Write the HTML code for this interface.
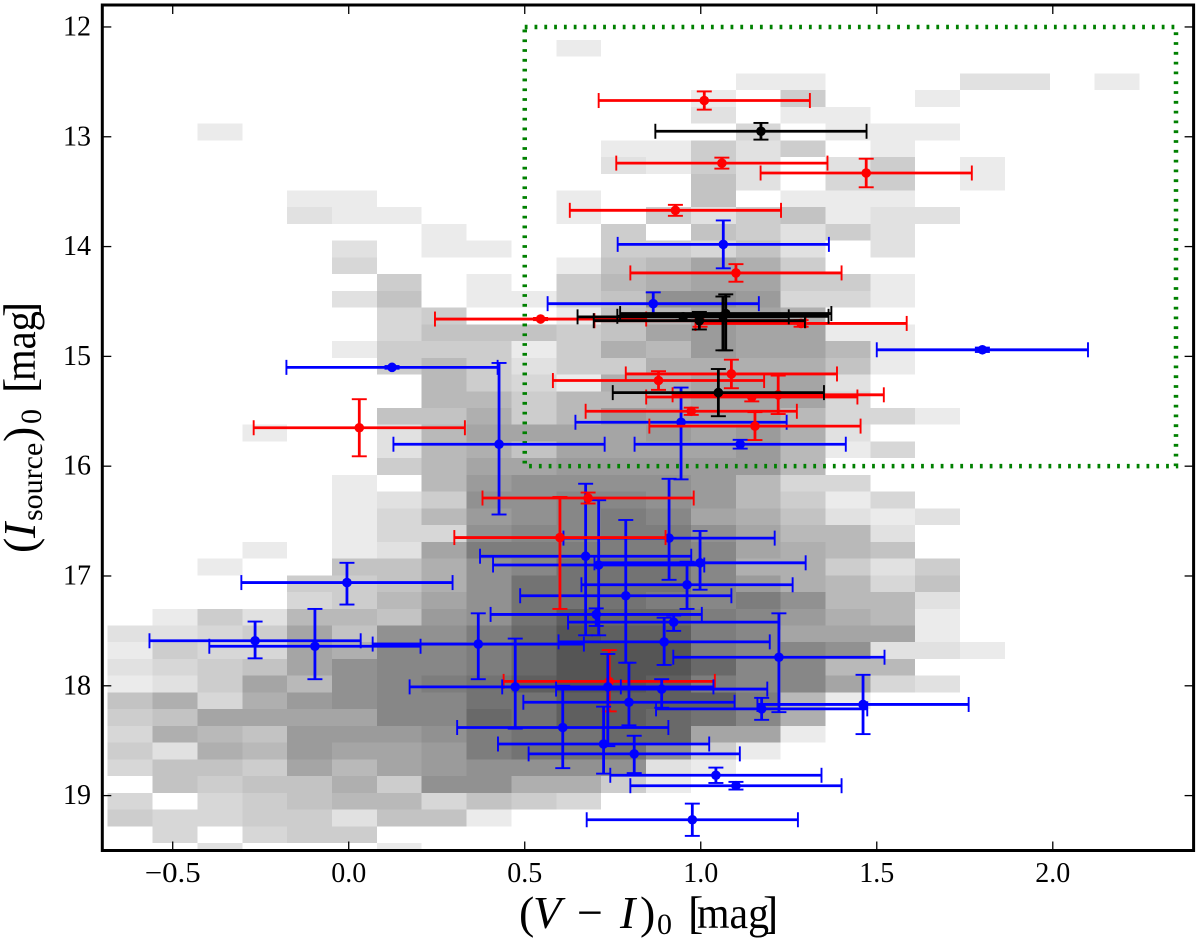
<!DOCTYPE html>
<html lang="en">
<head>
<meta charset="utf-8">
<title>Colour-magnitude diagram</title>
<style>
html,body{margin:0;padding:0;background:#fff;}
svg{display:block;}
text{font-family:"Liberation Serif",serif;fill:#000;}
</style>
</head>
<body>
<svg id="chart" xmlns="http://www.w3.org/2000/svg" width="1200" height="941" viewBox="0 0 1200 941">
  <g id="heat" shape-rendering="crispEdges"></g>
  <path id="box" fill="none" stroke="#008000" stroke-width="4.5" stroke-dasharray="2.8 7"></path>
  <g id="marks"></g>
  <g id="ticks"></g>
  <rect id="frame" fill="none" stroke="#000" stroke-width="3"></rect>
  <g id="labels"></g>
  <text y="928" font-size="46"><tspan x="519">(</tspan><tspan x="533" font-style="italic">V</tspan><tspan x="577">−</tspan><tspan x="620" font-style="italic">I</tspan><tspan x="640">)</tspan><tspan x="657" dy="6" font-size="30">0</tspan><tspan x="688" dy="-6">[</tspan><tspan x="697" font-size="44" textLength="72" lengthAdjust="spacingAndGlyphs">mag</tspan><tspan x="763">]</tspan></text>
  <text transform="translate(35,553) rotate(-90)" font-size="46"><tspan x="0">(</tspan><tspan x="15" font-style="italic">I</tspan><tspan x="32" dy="7" font-size="30">source</tspan><tspan x="111" dy="-7">)</tspan><tspan x="129" dy="6" font-size="30">0</tspan><tspan x="160" dy="-6">[</tspan><tspan x="172" font-size="44" textLength="70" lengthAdjust="spacingAndGlyphs">mag</tspan><tspan x="236">]</tspan></text>
</svg>
<script>
// ---- axis ranges ----
const xDomain = [-0.7, 2.4];
const yDomain = [11.8, 19.5];
const xTickValues = [-0.5, 0.0, 0.5, 1.0, 1.5, 2.0];
const yTickValues = [12, 13, 14, 15, 16, 17, 18, 19];
const xTickText = ["\u22120.5", "0.0", "0.5", "1.0", "1.5", "2.0"];
const yTickText = ["12", "13", "14", "15", "16", "17", "18", "19"];

// ---- selection box in data units: x0, x1, y0, y1 ----
const selectionBox = [0.5, 2.35, 12, 16];

// ---- histogram bins ----
const binX0 = -0.6847;
const binXW = 0.12744;
const binY0 = 12.118;
const binYH = 0.15237;

// ---- histogram counts: one row per magnitude bin, one entry per colour bin ----
const counts = [
[0,0,0,0,0,0,0,0,0,0,1],
[],
[0,0,0,0,0,0,0,0,0,0,0,0,0,0,1,1,0,0,0,2,2,0,1],
[0,0,0,0,0,0,0,0,0,0,0,0,0,1,0,4,0,0,1],
[0,0,0,0,0,0,0,0,0,0,0,0,0,2,0,1,1],
[0,0,1,0,0,0,0,0,0,0,0,0,0,0,3,0,1,1,1],
[0,0,0,0,0,0,0,0,0,0,0,1,1,4,2,4,0,1],
[0,0,0,0,0,0,0,0,0,0,0,2,1,4,2,0,2,4,0,1],
[0,0,0,0,0,0,0,0,0,0,0,0,0,5,2,0,3,4,0,1],
[0,0,0,0,1,1,0,0,0,0,1,0,0,5,0,1,1,1],
[0,0,0,0,2,1,1,0,0,0,1,0,4,2,4,5,1,2,2],
[0,0,0,0,0,0,0,1,0,0,0,4,0,5,4,2,4,2],
[0,0,0,0,0,2,0,1,1,0,0,4,4,3,5,2,0,2],
[0,0,0,0,0,3,0,0,0,0,1,5,6,8,7,4],
[0,0,0,0,0,0,4,0,1,0,4,6,7,8,8,4,4,1],
[0,0,0,0,0,2,5,0,1,1,4,5,10,10,9,3,3,1],
[0,0,0,0,0,0,3,4,0,0,1,5,6,8,8,7],
[0,0,0,0,0,0,3,5,5,5,4,5,8,9,8,8,1,1],
[0,0,0,0,0,1,4,4,4,1,4,7,6,9,8,8,6,1],
[0,0,0,0,0,0,4,6,4,2,4,4,7,7,7,7,5,1],
[0,0,0,0,0,0,0,6,4,3,1,7,7,8,8,8,2],
[0,0,0,0,0,0,0,6,6,4,6,6,7,8,8,8,3],
[0,0,0,0,0,0,5,5,7,4,6,9,8,8,8,6,3,3,1],
[0,0,0,1,0,0,2,6,8,8,8,8,9,8,9,7,2],
[0,0,0,0,0,0,2,6,7,5,8,8,8,8,9,6,1,3],
[0,0,0,0,0,0,4,6,8,8,9,9,9,9,9,6],
[0,0,0,0,0,1,0,6,9,10,10,10,10,9,6,3,3],
[0,0,0,0,0,1,2,4,10,10,11,11,10,9,6,4,1,3],
[0,0,0,0,0,1,3,6,9,10,11,12,11,8,7,5,2,1,2],
[0,0,0,0,0,1,3,3,10,11,11,12,12,10,8,6,6,2],
[0,0,0,1,0,1,2,8,12,12,12,12,12,11,8,7,6,5],
[0,0,1,0,0,5,5,7,10,11,13,13,13,11,7,7,4,2,4],
[0,0,0,0,4,4,5,7,10,13,13,13,13,11,9,7,6,3,5],
[0,0,0,0,3,4,6,8,10,13,13,13,12,11,12,10,6,6,2],
[0,1,4,2,6,6,5,9,10,13,15,14,14,12,11,9,7,6,1],
[2,2,3,4,8,5,10,10,12,14,16,15,15,12,11,8,8,8,1],
[1,4,3,3,8,7,11,11,12,14,16,16,16,12,11,11,10,2,2,1],
[2,3,4,5,8,10,11,11,12,14,16,16,16,14,11,11,6,6],
[1,2,4,8,6,10,11,12,13,15,16,16,15,12,11,11,8,3,2],
[5,7,3,7,9,10,11,11,13,13,15,15,15,15,12,6,1],
[4,5,8,8,8,8,11,11,14,13,15,15,14,13,11,7],
[3,7,6,5,9,9,9,10,12,13,13,14,14,8,8,1],
[4,2,7,6,9,8,8,9,12,13,13,13,10,4,1],
[3,5,5,4,8,6,8,9,10,10,10,10,2,1],
[0,5,4,5,5,7,4,10,10,7,7,4,1],
[3,0,3,4,5,6,6,3,5,4,3],
[4,3,3,4,4,2,5,5,1],
[0,3,0,3,4,4],
[0,0,2,0,0,0,1]
];

// ---- shared colour error in mag ----
const colourError = 0.3;

// ---- series points: [colour, magnitude, error towards bright, error towards faint] ----
const redUnderlay = [
[0.74, 17.96, 0.285, 0.273]
];
const bluePoints = [
[1.064, 13.98, 0.218, 0.218],
[0.865, 14.52, 0.103, 0.103],
[0.123, 15.10, 0.012, 0.012],
[0.427, 15.80, 0.74, 0.64],
[0.944, 15.60, 0.316, 0.52],
[1.112, 15.80, 0.04, 0.04],
[1.80, 14.94, 0.02, 0.02],
[0.91, 16.655, 0.54, 0.38],
[0.998, 16.88, 0.29, 0.245],
[0.673, 16.82, 0.66, 0.72],
[0.71, 16.90, 0.59, 0.64],
[0.961, 17.08, 0.21, 0.22],
[0.787, 17.18, 0.69, 0.61],
[0.703, 17.35, 0.055, 0.105],
[0.923, 17.42, 0.06, 0.08],
[-0.005, 17.06, 0.18, 0.20],
[-0.266, 17.59, 0.175, 0.16],
[-0.096, 17.64, 0.34, 0.30],
[0.368, 17.62, 0.28, 0.32],
[0.896, 17.60, 0.22, 0.21],
[1.222, 17.74, 0.40, 0.50],
[0.473, 18.01, 0.44, 0.38],
[0.608, 18.38, 0.38, 0.37],
[0.796, 18.15, 0.36, 0.21],
[0.889, 18.03, 0.09, 0.17],
[0.736, 18.01, 0.30, 0.54],
[0.724, 18.53, 0.34, 0.27],
[0.811, 18.62, 0.165, 0.175],
[1.043, 18.815, 0.07, 0.07],
[1.10, 18.91, 0.035, 0.035],
[0.976, 19.22, 0.147, 0.147],
[1.173, 18.21, 0.10, 0.10],
[1.461, 18.17, 0.27, 0.27]
];
const redPoints = [
[1.01, 12.67, 0.083, 0.083],
[1.06, 13.24, 0.05, 0.05],
[1.47, 13.33, 0.13, 0.13],
[0.928, 13.67, 0.05, 0.05],
[1.10, 14.24, 0.08, 0.08],
[0.545, 14.66, 0.01, 0.01],
[0.998, 14.675, 0.055, 0.055],
[1.285, 14.70, 0.03, 0.03],
[1.087, 15.16, 0.13, 0.13],
[0.88, 15.22, 0.085, 0.085],
[1.145, 15.37, 0.04, 0.04],
[1.22, 15.35, 0.175, 0.175],
[0.973, 15.50, 0.033, 0.033],
[1.154, 15.635, 0.127, 0.127],
[0.03, 15.65, 0.26, 0.26],
[0.68, 16.29, 0.05, 0.05],
[0.60, 16.65, 0.37, 0.65]
];
const blackPoints = [
[1.171, 12.95, 0.076, 0.076],
[0.95, 14.64, 0.03, 0.03],
[0.996, 14.675, 0.08, 0.08],
[1.071, 14.61, 0.175, 0.335],
[1.063, 14.635, 0.18, 0.31],
[1.05, 15.33, 0.215, 0.215]
];

// ---- axis functions ----
const plotLeft = 102.3, plotRight = 1193.6, plotTop = 5, plotBottom = 850.5;
function sx(v){ return plotLeft + (v - xDomain[0]) / (xDomain[1] - xDomain[0]) * (plotRight - plotLeft); }
function sy(v){ return plotTop + (v - yDomain[0]) / (yDomain[1] - yDomain[0]) * (plotBottom - plotTop); }
function grey(c){ const g = 245 - 10 * c; return 'rgb(' + g + ',' + g + ',' + g + ')'; }

const NS = 'http://www.w3.org/2000/svg';
function make(tag, attrs, parent){
  const el = document.createElementNS(NS, tag);
  for (const k in attrs) el.setAttribute(k, attrs[k]);
  parent.appendChild(el);
  return el;
}

// heatmap
const heat = document.getElementById('heat');
counts.forEach(function(row, j){
  row.forEach(function(c, i){
    if (!c) return;
    const x0 = sx(binX0 + i * binXW), x1 = sx(binX0 + (i + 1) * binXW);
    const y0 = sy(binY0 + j * binYH), y1 = Math.min(sy(binY0 + (j + 1) * binYH), plotBottom);
    const cell = make('rect', {x: x0, y: y0, width: x1 - x0, height: y1 - y0, fill: grey(c)}, heat);
    
    
  });
});

// selection box
const bx0 = sx(selectionBox[0]), bx1 = sx(selectionBox[1]), by0 = sy(selectionBox[2]), by1 = sy(selectionBox[3]);
document.getElementById('box').setAttribute('d', 'M' + bx0 + ' ' + by0 + 'H' + bx1 + 'V' + by1 + 'H' + bx0 + 'Z');

// error bars
const marks = document.getElementById('marks');
function drawSeries(points, color, name){
  points.forEach(function(p){
    const g = make('g', {stroke: color, fill: color}, marks);
    
    
    const cx = sx(p[0]), cy = sy(p[1]);
    const xl = sx(p[0] - colourError), xr = sx(p[0] + colourError);
    const yt = sy(p[1] - p[2]), yb = sy(p[1] + p[3]);
    make('line', {x1: xl, x2: xr, y1: cy, y2: cy, 'stroke-width': 2.8}, g);
    make('line', {x1: cx, x2: cx, y1: yt, y2: yb, 'stroke-width': 2.8}, g);
    make('line', {x1: xl, x2: xl, y1: cy - 7.5, y2: cy + 7.5, 'stroke-width': 1.9}, g);
    make('line', {x1: xr, x2: xr, y1: cy - 7.5, y2: cy + 7.5, 'stroke-width': 1.9}, g);
    make('line', {x1: cx - 7.5, x2: cx + 7.5, y1: yt, y2: yt, 'stroke-width': 1.9}, g);
    make('line', {x1: cx - 7.5, x2: cx + 7.5, y1: yb, y2: yb, 'stroke-width': 1.9}, g);
    make('circle', {cx: cx, cy: cy, r: 4.8, stroke: 'none'}, g);
  });
}
drawSeries(redUnderlay, '#ff0000', 'red-point');
drawSeries(bluePoints, '#0000ff', 'blue-point');
drawSeries(redPoints, '#ff0000', 'red-point');
drawSeries(blackPoints, '#000000', 'black-point');

// ticks and labels
const ticks = document.getElementById('ticks');
const labels = document.getElementById('labels');
xTickValues.forEach(function(v, i){
  const x = sx(v);
  const t1 = make('line', {x1: x, x2: x, y1: plotBottom, y2: plotBottom - 9, stroke: '#000', 'stroke-width': 1.3}, ticks);
  
  
  const t2 = make('line', {x1: x, x2: x, y1: plotTop, y2: plotTop + 9, stroke: '#000', 'stroke-width': 1.3}, ticks);
  
  
  const lab = make('text', {x: x, y: 882, 'font-size': 28, 'text-anchor': 'middle',
    textLength: v < 0 ? 56 : 35, lengthAdjust: 'spacingAndGlyphs'}, labels);
  
  
  lab.textContent = xTickText[i];
});
yTickValues.forEach(function(v, i){
  const y = sy(v);
  const t1 = make('line', {x1: plotLeft, x2: plotLeft + 9, y1: y, y2: y, stroke: '#000', 'stroke-width': 1.3}, ticks);
  
  
  const t2 = make('line', {x1: plotRight, x2: plotRight - 9, y1: y, y2: y, stroke: '#000', 'stroke-width': 1.3}, ticks);
  
  
  const lab = make('text', {x: 91, y: y + 8.5, 'font-size': 28, 'text-anchor': 'end'}, labels);
  
  
  lab.textContent = yTickText[i];
});

// frame
const frame = document.getElementById('frame');
frame.setAttribute('x', plotLeft);
frame.setAttribute('y', plotTop);
frame.setAttribute('width', plotRight - plotLeft);
frame.setAttribute('height', plotBottom - plotTop);
</script>
</body>
</html>
